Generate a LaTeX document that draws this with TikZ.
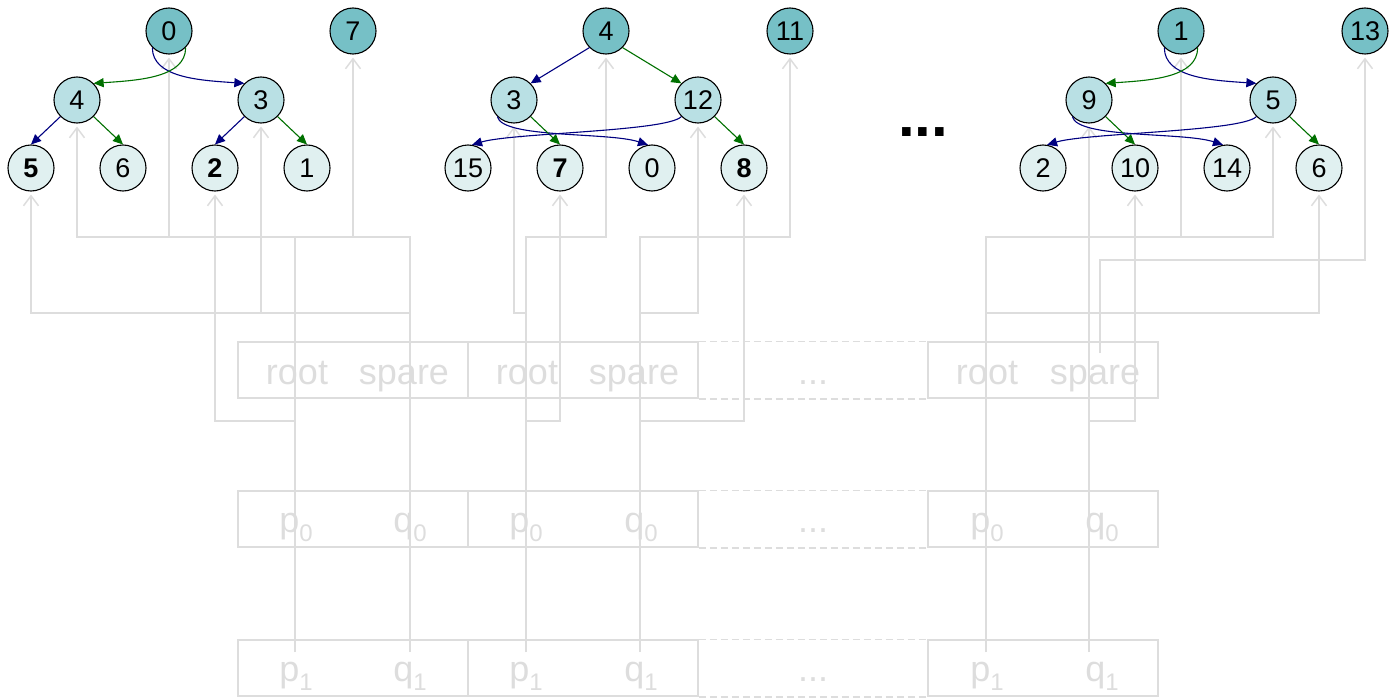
\documentclass[tikz,border=0pt]{standalone}
\usepackage{fontspec}
\setmainfont{Liberation Sans}
\usetikzlibrary{arrows.meta}
\definecolor{lg}{RGB}{221,221,221}
\definecolor{rootc}{RGB}{118,192,198}
\definecolor{midc}{RGB}{185,224,228}
\definecolor{leafc}{RGB}{224,240,240}
\definecolor{navyc}{RGB}{0,0,128}
\definecolor{greenc}{RGB}{0,112,0}
\newcommand{\sbx}[2]{#1\raisebox{-9pt}{\fontsize{24}{24}\selectfont #2}}
\begin{document}
\begin{tikzpicture}[x=1pt,y=-1pt,
 tn/.style={circle,draw=black,line width=1.1pt,minimum size=46pt,inner sep=0pt,font=\fontsize{27}{27}\selectfont},
 rt/.style={tn,fill=rootc}, md/.style={tn,fill=midc}, lf/.style={tn,fill=leafc},
 nv/.style={draw=navyc,line width=1.1pt,-{Triangle[length=10pt,width=9pt]}},
 gr/.style={draw=greenc,line width=1.1pt,-{Triangle[length=10pt,width=9pt]}},
 ptr/.style={draw=lg,line width=1.5pt,-{Straight Barb[length=10pt,width=15pt]},shorten >=3pt},
 ln/.style={draw=lg,line width=1.5pt},
 cell/.style={draw=lg,line width=1.5pt,minimum width=230pt,minimum height=56pt,inner sep=0pt},
 dsh/.style={draw=lg,line width=1.5pt,dash pattern=on 7pt off 4pt},
 btxt/.style={text=lg,font=\fontsize{36}{36}\selectfont,anchor=base,inner sep=0pt},
]
\useasboundingbox (0,0) rectangle (1396,698);

% ---------- array boxes ----------
\foreach \r/\y in {1/370,2/519,3/668}{
  \node[cell] (ba\r) at (353,\y) {};
  \node[cell] (bb\r) at (583,\y) {};
  \node[cell] (bd\r) at (1043,\y) {};
  \draw[dsh] (bb\r.north east) -- (bd\r.north west);
  \draw[dsh] (bb\r.south east) -- (bd\r.south west);
}
\node[btxt] (t1r) at (297,384) {root};
\node[btxt] (t1s) at (404,384) {spare};
\node[btxt] (t2r) at (527,384) {root};
\node[btxt] (t2s) at (634,384) {spare};
\node[btxt] (t3e) at (813,384) {...};
\node[btxt] (t4r) at (987,384) {root};
\node[btxt] (t4s) at (1095,384) {spare};

\node[btxt] (p01) at (296,532) {\sbx{p}{0}};
\node[btxt] (q01) at (410,532) {\sbx{q}{0}};
\node[btxt] (p02) at (526,532) {\sbx{p}{0}};
\node[btxt] (q02) at (641,532) {\sbx{q}{0}};
\node[btxt] (e02) at (813,532) {...};
\node[btxt] (p04) at (987,532) {\sbx{p}{0}};
\node[btxt] (q04) at (1102,532) {\sbx{q}{0}};

\node[btxt] (p11) at (296,681) {\sbx{p}{1}};
\node[btxt] (q11) at (410,681) {\sbx{q}{1}};
\node[btxt] (p12) at (526,681) {\sbx{p}{1}};
\node[btxt] (q12) at (641,681) {\sbx{q}{1}};
\node[btxt] (e12) at (813,681) {...};
\node[btxt] (p14) at (987,681) {\sbx{p}{1}};
\node[btxt] (q14) at (1102,681) {\sbx{q}{1}};

% ---------- trees ----------
\node[rt] (L0) at (169,31) {0};
\node[rt] (L7) at (353,31) {7};
\node[md] (L4) at (77,100) {4};
\node[md] (L3) at (261,100) {3};
\node[lf] (L5) at (31,168) {\textbf{5}};
\node[lf] (L6) at (123,168) {6};
\node[lf] (L2) at (215,168) {\textbf{2}};
\node[lf] (L1) at (307,168) {1};

\node[rt] (M4) at (606,31) {4};
\node[rt] (M11) at (790,31) {11};
\node[md] (M3) at (514,100) {3};
\node[md] (M12) at (698,100) {12};
\node[lf] (M15) at (468,168) {15};
\node[lf] (M7) at (560,168) {\textbf{7}};
\node[lf] (M0) at (652,168) {0};
\node[lf] (M8) at (744,168) {\textbf{8}};

\node[rt] (R1) at (1181,31) {1};
\node[rt] (R13) at (1365,31) {13};
\node[md] (R9) at (1089,100) {9};
\node[md] (R5) at (1273,100) {5};
\node[lf] (R2) at (1043,168) {2};
\node[lf] (R10) at (1135,168) {10};
\node[lf] (R14) at (1227,168) {14};
\node[lf] (R6) at (1319,168) {6};

\node[font={\fontsize{60}{60}\selectfont\bfseries},inner sep=0pt] (gap) at (923,132) {...};

% ---------- field anchors ----------
\coordinate (f1a) at (295,652);
\coordinate (f1b) at (410,652);
\coordinate (f2a) at (526,652);
\coordinate (f2b) at (640,652);
\coordinate (f4a) at (986,652);
\coordinate (f4b) at (1089,652);
\coordinate (f4s) at (1100,353);

% ---------- grey pointers ----------
\draw[ptr] (f1a) -- (295,237) -| (L0);
\draw[ptr] (295,237) -| (L4);
\draw[ptr] (f1b) -- (410,237) -| (L7);
\draw[ln] (295,237) -- (410,237);
\draw[ptr] (410,313) -| (L5);
\draw[ptr] (410,313) -| (L3);
\draw[ptr] (f1a) -- (295,421) -| (L2);

\draw[ptr] (f2a) -- (526,237) -| (M4);
\draw[ptr] (526,313) -| (M3);
\draw[ptr] (526,421) -| (M7);
\draw[ptr] (f2b) -- (640,237) -| (M11);
\draw[ptr] (640,313) -| (M12);
\draw[ptr] (640,421) -| (M8);

\draw[ptr] (f4a) -- (986,237) -| (R1);
\draw[ptr] (1181,237) -| (R5);
\draw[ptr] (f4a) -- (986,313) -| (R6);
\draw[ptr] (f4s) -- (1100,260) -| (R13);
\draw[ptr] (f4b) -- (R9);
\draw[ptr] (1089,421) -| (R10);

% ---------- tree edges ----------
\draw[nv] (L0.225) .. controls +(0,30) and +(-45,-3) .. (L3.135);
\draw[gr] (L0.-45) .. controls +(0,30) and +(45,-3) .. (L4.45);
\draw[nv] (L4.225) -- (L5.north);
\draw[gr] (L4.-45) -- (L6.north);
\draw[nv] (L3.225) -- (L2.north);
\draw[gr] (L3.-45) -- (L1.north);

\draw[nv] (M4.225) -- (M3.45);
\draw[gr] (M4.-45) -- (M12.135);
\draw[nv] (M3.225) .. controls +(5,22) and +(-40,-13) .. (M0.100);
\draw[gr] (M3.-45) -- (M7.north);
\draw[nv] (M12.225) .. controls +(-15,15) and +(40,-12) .. (M15.80);
\draw[gr] (M12.-45) -- (M8.north);

\draw[nv] (R1.225) .. controls +(0,30) and +(-45,-3) .. (R5.135);
\draw[gr] (R1.-45) .. controls +(0,30) and +(45,-3) .. (R9.45);
\draw[nv] (R9.225) .. controls +(5,22) and +(-40,-13) .. (R14.100);
\draw[gr] (R9.-45) -- (R10.north);
\draw[nv] (R5.225) .. controls +(-15,15) and +(40,-12) .. (R2.80);
\draw[gr] (R5.-45) -- (R6.north);
\end{tikzpicture}
\end{document}
